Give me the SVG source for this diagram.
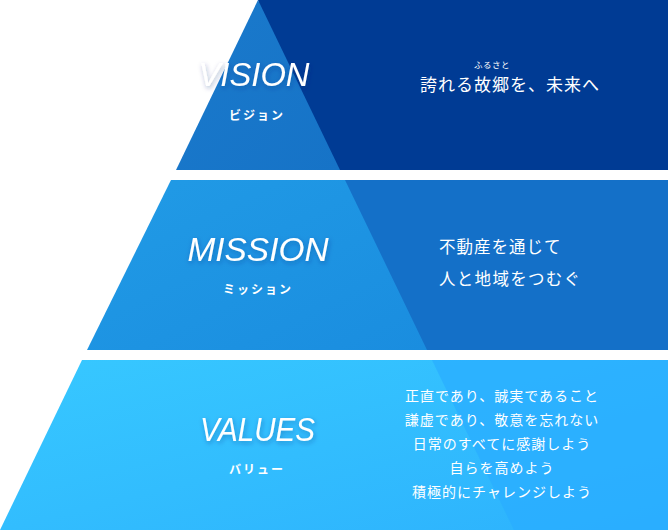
<svg xmlns="http://www.w3.org/2000/svg" width="668" height="530" viewBox="0 0 668 530">
<defs>
<linearGradient id="g1" x1="0" y1="0" x2="1" y2="1"><stop offset="0" stop-color="#1a7acc"/><stop offset="1" stop-color="#1673c7"/></linearGradient>
<linearGradient id="g2" x1="0" y1="0" x2="1" y2="1"><stop offset="0" stop-color="#219be6"/><stop offset="1" stop-color="#1a8ddf"/></linearGradient>
<linearGradient id="g3" x1="0" y1="0" x2="1" y2="1"><stop offset="0" stop-color="#37c8ff"/><stop offset="1" stop-color="#2db2fd"/></linearGradient>
<filter id="sh" x="-20%" y="-40%" width="140%" height="180%"><feDropShadow dx="1" dy="2" stdDeviation="2.5" flood-color="#0a2e7a" flood-opacity="0.35"/></filter>
</defs>
<style>
.en{font-family:"Liberation Sans",Arial,sans-serif;font-style:italic;font-size:33px;fill:#fff;text-anchor:middle;filter:url(#sh)}
.kana{font-family:"Noto Sans CJK JP",sans-serif;font-weight:700;font-size:12px;fill:#fff;text-anchor:middle;letter-spacing:2px}
.jp{font-family:"Noto Sans CJK JP",sans-serif;font-weight:400;fill:#fff}
</style>
<g id="vision">
<polygon points="258,0 668,0 668,170 300,170" fill="#003b94"/>
<polygon points="258,0 340,170 176,170" fill="url(#g1)"/>
<text class="en" x="254" y="86" textLength="111" lengthAdjust="spacingAndGlyphs">VISION</text>
<text class="kana" x="257" y="120">ビジョン</text>
<text class="jp" x="492" y="68" font-size="8.5" text-anchor="middle" letter-spacing="0.5">ふるさと</text>
<text class="jp" x="510" y="91" font-size="17" text-anchor="middle" letter-spacing="1">誇れる故郷を、未来へ</text>
</g>
<g id="mission">
<polygon points="320,180 668,180 668,350 380,350" fill="#1470c8"/>
<polygon points="171,180 345,180 427,350 87,350" fill="url(#g2)"/>
<text class="en" x="258" y="261" textLength="141" lengthAdjust="spacingAndGlyphs">MISSION</text>
<text class="kana" x="258" y="294">ミッション</text>
<text class="jp" x="439" y="253" font-size="16.5" letter-spacing="1">不動産を通じて</text>
<text class="jp" x="439" y="285" font-size="16.5" letter-spacing="1.3">人と地域をつむぐ</text>
</g>
<g id="values">
<polygon points="82,360 668,360 668,530 0,530" fill="url(#g3)"/>
<polygon points="432,360 668,360 668,530 514,530" fill="#2aadff" opacity="0.7"/>
<text class="en" x="257.5" y="441" textLength="115" lengthAdjust="spacingAndGlyphs">VALUES</text>
<text class="kana" x="257" y="474">バリュー</text>
<g class="jp" font-size="14" text-anchor="middle" letter-spacing="1">
<text x="502" y="401">正直であり、誠実であること</text>
<text x="502" y="425">謙虚であり、敬意を忘れない</text>
<text x="502" y="449">日常のすべてに感謝しよう</text>
<text x="502" y="473">自らを高めよう</text>
<text x="502" y="497">積極的にチャレンジしよう</text>
</g>
</g>
</svg>
